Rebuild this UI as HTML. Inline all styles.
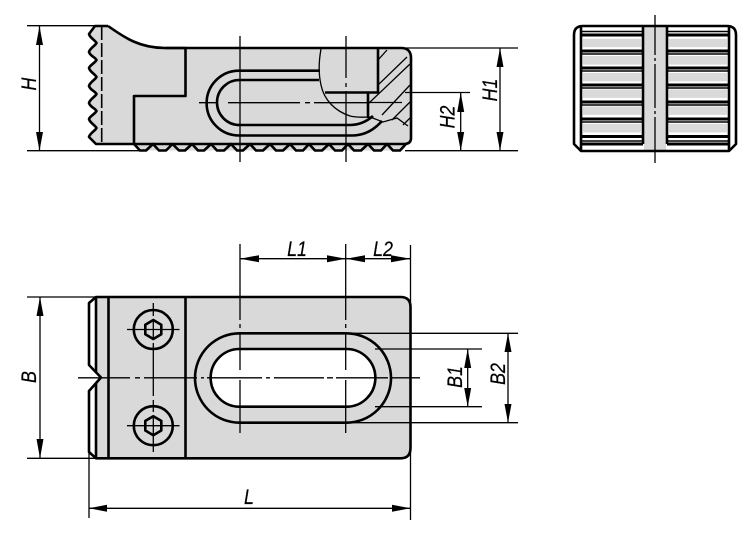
<!DOCTYPE html>
<html><head><meta charset="utf-8"><style>
html,body{margin:0;padding:0;background:#fff}
svg{display:block}
text{font-family:"Liberation Sans",sans-serif;font-style:italic;font-size:21px;fill:#000;stroke:#000;stroke-width:.2;text-anchor:middle}
.k{fill:none;stroke:#000;stroke-width:2.6;stroke-linejoin:round}
.t{fill:none;stroke:#000;stroke-width:1.3}
.m{fill:none;stroke:#000;stroke-width:1.6}
.a{fill:#000}
</style></head><body>
<svg width="750" height="536" viewBox="0 0 750 536" xmlns="http://www.w3.org/2000/svg">
<!-- TOP LEFT VIEW -->
<path d="M95 26H108C125 38 140 48 165 48H401Q411 48 411 58V139Q411 144 406 144L398 150.5H143L134 144H97L89 137L96.5 128L89 119L96.5 111L89 103L96.5 94L89 86L96.5 77L89 68L96.5 60L89 52L96.5 43L89 34Z" fill="#d9d9d9"/>
<path class="k" d="M108 26H95L89 34C90 38 95 40 96.500 43C95 46 90 48 89 52C90 56 95 57 96.500 60C95 63 90 65 89 68C90 72 95 74 96.500 77C95 80 90 82 89 86C90 90 95 91 96.500 94C95 97 90 99 89 103C90 107 95 108 96.500 111C95 114 90 116 89 119C90 123 95 125 96.500 128C95 131 90 133 89 137L96 144H404Q411 144 411 138V58Q411 48 401 48H165C140 48 125 38 108 26"/>
<path class="m" d="M101.700 26V144" stroke-dasharray="14 3"/>
<path class="k" d="M165 48H185.500V96H134V144"/>
<path class="k" d="M134 144L140 150.500H146L153 144L159 150.500H166L172.500 144L179 150.500H185L192 144L198 150.500H204L211 144L217 150.500H224L231 144L237 150.500H243L250 144L256 150.500H263L270 144L276 150.500H283L290 144L296 150.500H303L309 144L315 150.500H322L329 144L335 150.500H342L348 144L354 150.500H361L368 144L374 150.500H381L387 144L393 150.500H400L406 144"/>
<!-- slot top view -->
<path class="k" d="M320 70.700H239A32.200 32.200 0 0 0 239 135.500H352C364 135.500 374 130 382 121"/>
<path class="k" d="M319 80H239.500A22.500 22.500 0 0 0 239.500 125H350C359 125 366 122 373 116"/>
<!-- section -->
<path d="M321 49C319 60 318 72 321 85C324 100 335 111 350 116C358 118 365 117 372 117" class="t"/>
<path class="k" d="M378 48V92.500H325M368 92.500V118"/>
<path class="t" d="M378 60L387 50M378 85L407 57M369 103L410 64M382 115L410 85M392 120L410 102M403 125L410 118M370 117L383 122L397 118L408 126M370 102.500H402"/>
<!-- centre lines top -->
<path class="t" d="M199 102.700H216M228 102.700H300M305 102.700H310M314 102.700H370"/>
<path class="t" d="M240 36V162M346 36V78M346 83V87M346 91V162"/>
<!-- top dims -->
<path class="t" d="M27 25.700H100M27 150.700H140M39.500 26V151M405 48H518M405 92.500H470M405 150.700H518M500 48V151M460.700 93V151"/>
<polygon class="a" points="39.500,26 36,45 43,45"/><polygon class="a" points="39.500,150.700 36,132 43,132"/>
<polygon class="a" points="500,48 496.500,67 503.500,67"/><polygon class="a" points="500,150.700 496.500,132 503.500,132"/>
<polygon class="a" points="460.700,92.500 457.200,112 464.200,112"/><polygon class="a" points="460.700,150.700 457.200,132 464.200,132"/>
<text transform="translate(36,84) rotate(-90) scale(.85,1)">H</text>
<text transform="translate(497,90) rotate(-90) scale(.85,1)">H1</text>
<text transform="translate(454.500,117) rotate(-90) scale(.85,1)">H2</text>
<!-- RIGHT VIEW -->
<path d="M583 26H727Q736 26 736 35V144L729 151H581L574 144V35Q574 26 583 26Z" fill="#fff"/>
<rect x="583" y="38.800" width="58" height="8.400" fill="#d9d9d9"/><rect x="583" y="56" width="58" height="8.600" fill="#d9d9d9"/><rect x="583" y="73" width="58" height="8.400" fill="#d9d9d9"/><rect x="583" y="89.500" width="58" height="8.400" fill="#d9d9d9"/><rect x="583" y="106.500" width="58" height="8.400" fill="#d9d9d9"/><rect x="583" y="123.800" width="58" height="8.600" fill="#d9d9d9"/>
<rect x="669" y="38.800" width="58" height="8.400" fill="#d9d9d9"/><rect x="669" y="56" width="58" height="8.600" fill="#d9d9d9"/><rect x="669" y="73" width="58" height="8.400" fill="#d9d9d9"/><rect x="669" y="89.500" width="58" height="8.400" fill="#d9d9d9"/><rect x="669" y="106.500" width="58" height="8.400" fill="#d9d9d9"/><rect x="669" y="123.800" width="58" height="8.600" fill="#d9d9d9"/>
<rect x="644" y="27" width="22" height="123" fill="#d9d9d9"/>
<path class="k" d="M583 26H727Q736 26 736 35V144L729 151H581L574 144V35Q574 26 583 26ZM581 27V151M729 27V151M643 26V144M667 26V144"/>
<path stroke="#000" stroke-width="3" fill="none" d="M581 35H643M667 35H729M581 51H643M667 51H729M581 68H643M667 68H729M581 85H643M667 85H729M581 102H643M667 102H729M581 119H643M667 119H729M581 136.500H643M667 136.500H729M581 144H643M667 144H729"/>
<path stroke="#000" stroke-width="1.600" fill="none" d="M581 31.500H643M667 31.500H729M581 54H643M667 54H729M581 71H643M667 71H729M581 88H643M667 88H729M581 105H643M667 105H729M581 122H643M667 122H729M581 141H643M667 141H729"/>
<path class="t" d="M655 15V55M655 58V61M655 64V108M655 111V114M655 117V163"/>
<!-- BOTTOM VIEW -->
<path d="M96 297H400.500Q410.500 297 410.500 307V448Q410.500 458.300 400.500 458.300H96V383L101 377.500L96 372Z" fill="#d9d9d9"/>
<path class="k" d="M89 303L96 297H400.500Q410.500 297 410.500 307V448Q410.500 458.300 400.500 458.300H96L89 452V391L101 377.500L89 365Z"/>
<path class="k" d="M96 297V372M96 383V458M108.500 297V458M185.500 297V458"/>
<path class="k" style="fill:#d9d9d9" d="M239.700 333.300H346.300A44.700 44.700 0 0 1 346.300 422.700H239.700A44.700 44.700 0 0 1 239.700 333.300Z"/>
<path class="k" style="fill:#fff" d="M239.500 349H346.500A28.800 28.800 0 0 1 346.500 406.700H239.500A28.800 28.800 0 0 1 239.500 349Z"/>
<!-- screws -->
<circle class="k" cx="153.300" cy="329.500" r="19.500"/><polygon class="k" points="153.300,320 161.300,324.700 161.300,334.300 153.300,339 145.300,334.300 145.300,324.700"/>
<circle class="k" cx="153.300" cy="425.700" r="19.500"/><polygon class="k" points="153.300,416.200 161.300,420.900 161.300,430.500 153.300,435.200 145.300,430.500 145.300,420.900"/>
<path class="t" d="M127 329.500H179.500M127 425.700H179.500M153.300 303V316M153.300 319V339M153.300 343V396M153.300 400V412M153.300 416V452"/>
<!-- centre lines bottom -->
<path class="t" d="M78 377.800H130M135 377.800H140M144 377.800H197M201 377.800H204M207 377.800H262M266 377.800H270M274 377.800H324M327 377.800H333M336 377.800H388M392 377.800H420"/>
<path class="t" d="M240 244V320M240 324V328M240 332V370M240 380V433M345.700 244V320M345.700 324V328M345.700 332V370M345.700 380V433"/>
<!-- bottom dims -->
<path class="t" d="M27 297H95M27 458.300H95M40 297V458M240 258.700H410M410.500 245V520M89 452V518M89 508.300H410M346 333.300H518M375 349H482M375 406.700H482M346 422.700H518M467.700 349V406.700M508 333.300V422.700"/>
<polygon class="a" points="40,297 36.500,316 43.500,316"/><polygon class="a" points="40,458.300 36.500,439 43.500,439"/>
<polygon class="a" points="240,258.700 259,255.200 259,262.200"/><polygon class="a" points="346,258.700 327,255.200 327,262.200"/>
<polygon class="a" points="346,258.700 365,255.200 365,262.200"/><polygon class="a" points="410.500,258.700 391,255.200 391,262.200"/>
<polygon class="a" points="89,508.300 107,504.800 107,511.800"/><polygon class="a" points="410.500,508.300 392,504.800 392,511.800"/>
<polygon class="a" points="467.700,349 464.200,368 471.200,368"/><polygon class="a" points="467.700,406.700 464.200,388 471.200,388"/>
<polygon class="a" points="508,333.300 504.500,352 511.500,352"/><polygon class="a" points="508,422.700 504.500,404 511.500,404"/>
<text transform="translate(36,377) rotate(-90) scale(.85,1)">B</text>
<text transform="translate(297,256) scale(.85,1)">L1</text>
<text transform="translate(383,256) scale(.85,1)">L2</text>
<text transform="translate(249,504) scale(.85,1)">L</text>
<text transform="translate(462,377) rotate(-90) scale(.85,1)">B1</text>
<text transform="translate(505,374) rotate(-90) scale(.85,1)">B2</text>
</svg>
</body></html>
